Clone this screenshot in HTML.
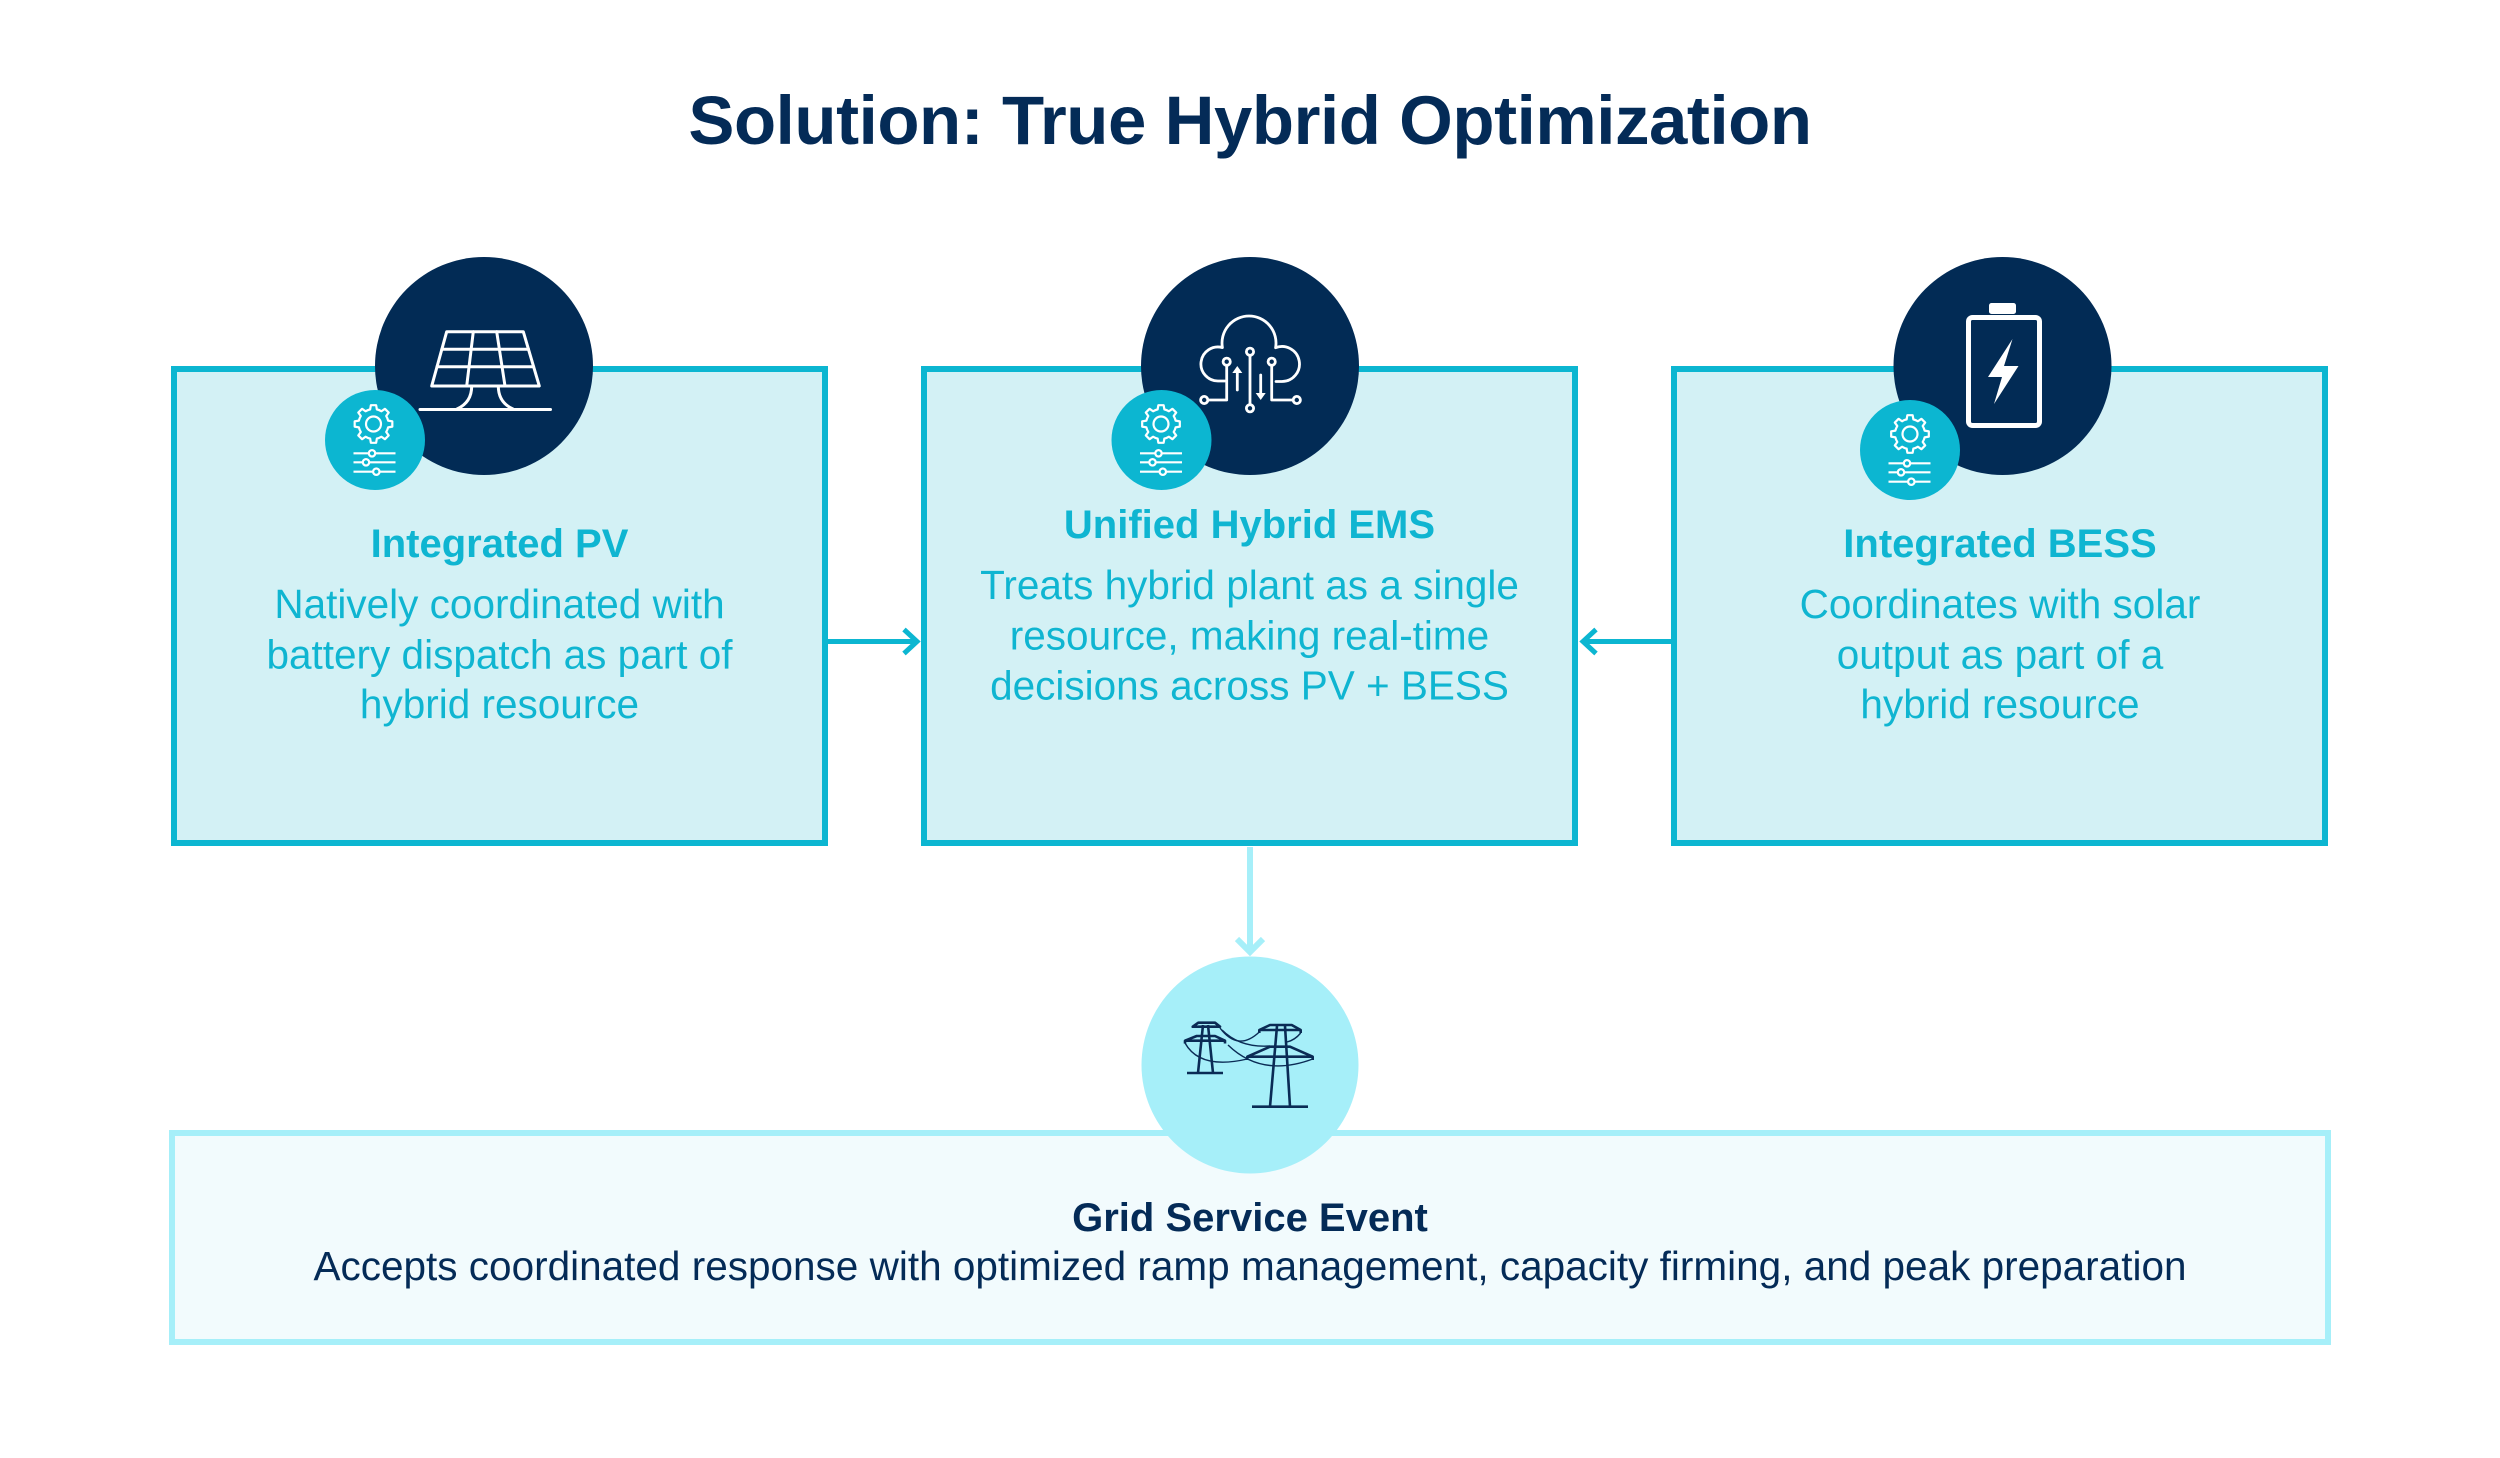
<!DOCTYPE html>
<html>
<head>
<meta charset="utf-8">
<style>
  html, body { margin: 0; padding: 0; background: #ffffff; }
  body { width: 2500px; height: 1458px; overflow: hidden; }
  svg { display: block; }
  .t { font-family: "Liberation Sans", Arial, sans-serif; }
</style>
</head>
<body>
<svg width="2500" height="1458" viewBox="0 0 2500 1458" xmlns="http://www.w3.org/2000/svg">
  <rect x="0" y="0" width="2500" height="1458" fill="#ffffff"/>

  <!-- Title -->
  <text class="t" x="1250" y="144" text-anchor="middle" font-size="69" font-weight="bold" letter-spacing="-0.45" fill="#042b57">Solution: True Hybrid Optimization</text>

  <!-- Top boxes -->
  <rect x="174" y="369" width="651" height="474" fill="#d3f1f5" stroke="#0cb6d1" stroke-width="6"/>
  <rect x="924" y="369" width="651" height="474" fill="#d3f1f5" stroke="#0cb6d1" stroke-width="6"/>
  <rect x="1674" y="369" width="651" height="474" fill="#d3f1f5" stroke="#0cb6d1" stroke-width="6"/>

  <!-- Horizontal arrows -->
  <line x1="828" y1="641.5" x2="918" y2="641.5" stroke="#0cb6d1" stroke-width="5"/>
  <polyline points="904,629.5 917,641.5 904,653.5" fill="none" stroke="#0cb6d1" stroke-width="5"/>
  <line x1="1672" y1="641.5" x2="1582" y2="641.5" stroke="#0cb6d1" stroke-width="5"/>
  <polyline points="1596,629.5 1583,641.5 1596,653.5" fill="none" stroke="#0cb6d1" stroke-width="5"/>

  <!-- Vertical connector to grid -->
  <line x1="1250" y1="847" x2="1250" y2="950" stroke="#a6eff9" stroke-width="6"/>
  <polyline points="1237,939 1250,952 1263,939" fill="none" stroke="#a6eff9" stroke-width="6"/>

  <!-- Bottom box -->
  <rect x="172" y="1133" width="2156" height="209" fill="#f2fbfd" stroke="#a6eff9" stroke-width="6"/>

  <!-- Dark circles -->
  <circle cx="484" cy="366" r="109" fill="#022b55"/>
  <circle cx="1250" cy="366" r="109" fill="#022b55"/>
  <circle cx="2002.5" cy="366" r="109" fill="#022b55"/>

  <!-- Solar panel icon -->
  <g fill="none" stroke="#ffffff" stroke-width="3" stroke-linejoin="round" stroke-linecap="round">
    <path d="M446.7,331.7 L523.3,331.7 L539.3,386 L431.7,386 Z"/>
    <line x1="441.8" y1="349.3" x2="528.5" y2="349.3"/>
    <line x1="437" y1="366.7" x2="533.6" y2="366.7"/>
    <line x1="473.3" y1="331.7" x2="466.7" y2="386"/>
    <line x1="496.7" y1="331.7" x2="505" y2="386"/>
    <path d="M471.7,386 C471.7,398 466,405 457,409"/>
    <path d="M498.3,386 C498.3,398 504,405 513,409"/>
    <line x1="420" y1="409.5" x2="550.5" y2="409.5"/>
  </g>

  <!-- Cloud / EMS icon -->
  <g fill="none" stroke="#ffffff" stroke-width="2.8" stroke-linecap="round" stroke-linejoin="round">
    <path d="M1225,381 H1218 A17 17 0 1 1 1222.4,347.6 A27 27 0 1 1 1275.6,347.7 A17.5 17.5 0 1 1 1282,381.5 H1276"/>
    <line x1="1250" y1="355.5" x2="1250" y2="404.5"/>
    <circle cx="1250" cy="351.7" r="3.6" fill="#022b55"/>
    <circle cx="1250" cy="408.3" r="3.6" fill="#022b55"/>
    <path d="M1226.7,365.5 V400 H1208"/>
    <circle cx="1226.7" cy="361.7" r="3.6" fill="#022b55"/>
    <circle cx="1204.2" cy="400" r="3.6" fill="#022b55"/>
    <path d="M1271.7,365.5 V400 H1293"/>
    <circle cx="1271.7" cy="361.7" r="3.6" fill="#022b55"/>
    <circle cx="1296.8" cy="400" r="3.6" fill="#022b55"/>
    <line x1="1237.3" y1="372" x2="1237.3" y2="390"/>
    <line x1="1260.7" y1="375" x2="1260.7" y2="394"/>
  </g>
  <polygon points="1237.3,366 1232.3,373 1242.3,373" fill="#ffffff"/>
  <polygon points="1260.7,400 1255.7,393 1265.7,393" fill="#ffffff"/>

  <!-- Battery icon -->
  <rect x="1968.5" y="317.5" width="71" height="108" rx="4" ry="4" fill="none" stroke="#ffffff" stroke-width="5"/>
  <rect x="1989" y="303" width="27" height="11" rx="2.5" ry="2.5" fill="#ffffff"/>
  <polygon points="2012.5,339 1988,377 2002,377 1994,404 2018.5,366 2004,366" fill="#ffffff"/>

  <!-- Badges -->
  <g transform="translate(375,440)">
    <circle cx="0" cy="0" r="50" fill="#0cb6d1"/>
    <g transform="translate(-1.5,-16)" fill="none" stroke="#ffffff" stroke-width="2.2" stroke-linejoin="round">
      <path d="M14.62,-3.37 L18.82,-2.64 L18.82,2.64 L14.62,3.37 A15,15 0 0 1 12.72,7.95 L15.17,11.43 L11.43,15.17 L7.95,12.72 A15 15 0 0 1 3.37,14.62 L2.64,18.82 L-2.64,18.82 L-3.37,14.62 A15 15 0 0 1 -7.95,12.72 L-11.43,15.17 L-15.17,11.43 L-12.72,7.95 A15 15 0 0 1 -14.62,3.37 L-18.82,2.64 L-18.82,-2.64 L-14.62,-3.37 A15 15 0 0 1 -12.72,-7.95 L-15.17,-11.43 L-11.43,-15.17 L-7.95,-12.72 A15 15 0 0 1 -3.37,-14.62 L-2.64,-18.82 L2.64,-18.82 L3.37,-14.62 A15 15 0 0 1 7.95,-12.72 L11.43,-15.17 L15.17,-11.43 L12.72,-7.95 A15 15 0 0 1 14.62,-3.37 Z"/>
      <circle cx="0" cy="0" r="7.5"/>
    </g>
    <g stroke="#ffffff" stroke-width="2.2">
      <line x1="-21.5" y1="13.3" x2="20.5" y2="13.3"/>
      <line x1="-21.5" y1="22.3" x2="20.5" y2="22.3"/>
      <line x1="-21.5" y1="31.7" x2="20.5" y2="31.7"/>
      <circle cx="-3" cy="13.3" r="3.2" fill="#0cb6d1"/>
      <circle cx="-9" cy="22.3" r="3.2" fill="#0cb6d1"/>
      <circle cx="1.3" cy="31.7" r="3.2" fill="#0cb6d1"/>
    </g>
  </g>
  <g transform="translate(1161.5,440)">
    <circle cx="0" cy="0" r="50" fill="#0cb6d1"/>
    <g transform="translate(-0.5,-16)" fill="none" stroke="#ffffff" stroke-width="2.2" stroke-linejoin="round">
      <path d="M14.62,-3.37 L18.82,-2.64 L18.82,2.64 L14.62,3.37 A15,15 0 0 1 12.72,7.95 L15.17,11.43 L11.43,15.17 L7.95,12.72 A15 15 0 0 1 3.37,14.62 L2.64,18.82 L-2.64,18.82 L-3.37,14.62 A15 15 0 0 1 -7.95,12.72 L-11.43,15.17 L-15.17,11.43 L-12.72,7.95 A15 15 0 0 1 -14.62,3.37 L-18.82,2.64 L-18.82,-2.64 L-14.62,-3.37 A15 15 0 0 1 -12.72,-7.95 L-15.17,-11.43 L-11.43,-15.17 L-7.95,-12.72 A15 15 0 0 1 -3.37,-14.62 L-2.64,-18.82 L2.64,-18.82 L3.37,-14.62 A15 15 0 0 1 7.95,-12.72 L11.43,-15.17 L15.17,-11.43 L12.72,-7.95 A15 15 0 0 1 14.62,-3.37 Z"/>
      <circle cx="0" cy="0" r="7.5"/>
    </g>
    <g stroke="#ffffff" stroke-width="2.2">
      <line x1="-21.5" y1="13.3" x2="20.5" y2="13.3"/>
      <line x1="-21.5" y1="22.3" x2="20.5" y2="22.3"/>
      <line x1="-21.5" y1="31.7" x2="20.5" y2="31.7"/>
      <circle cx="-3" cy="13.3" r="3.2" fill="#0cb6d1"/>
      <circle cx="-9" cy="22.3" r="3.2" fill="#0cb6d1"/>
      <circle cx="1.3" cy="31.7" r="3.2" fill="#0cb6d1"/>
    </g>
  </g>
  <g transform="translate(1910,450)">
    <circle cx="0" cy="0" r="50" fill="#0cb6d1"/>
    <g transform="translate(0,-16)" fill="none" stroke="#ffffff" stroke-width="2.2" stroke-linejoin="round">
      <path d="M14.62,-3.37 L18.82,-2.64 L18.82,2.64 L14.62,3.37 A15,15 0 0 1 12.72,7.95 L15.17,11.43 L11.43,15.17 L7.95,12.72 A15 15 0 0 1 3.37,14.62 L2.64,18.82 L-2.64,18.82 L-3.37,14.62 A15 15 0 0 1 -7.95,12.72 L-11.43,15.17 L-15.17,11.43 L-12.72,7.95 A15 15 0 0 1 -14.62,3.37 L-18.82,2.64 L-18.82,-2.64 L-14.62,-3.37 A15 15 0 0 1 -12.72,-7.95 L-15.17,-11.43 L-11.43,-15.17 L-7.95,-12.72 A15 15 0 0 1 -3.37,-14.62 L-2.64,-18.82 L2.64,-18.82 L3.37,-14.62 A15 15 0 0 1 7.95,-12.72 L11.43,-15.17 L15.17,-11.43 L12.72,-7.95 A15 15 0 0 1 14.62,-3.37 Z"/>
      <circle cx="0" cy="0" r="7.5"/>
    </g>
    <g stroke="#ffffff" stroke-width="2.2">
      <line x1="-21.5" y1="13.3" x2="20.5" y2="13.3"/>
      <line x1="-21.5" y1="22.3" x2="20.5" y2="22.3"/>
      <line x1="-21.5" y1="31.7" x2="20.5" y2="31.7"/>
      <circle cx="-3" cy="13.3" r="3.2" fill="#0cb6d1"/>
      <circle cx="-9" cy="22.3" r="3.2" fill="#0cb6d1"/>
      <circle cx="1.3" cy="31.7" r="3.2" fill="#0cb6d1"/>
    </g>
  </g>

  <!-- Grid circle -->
  <circle cx="1250" cy="1065" r="108.5" fill="#a6eff9"/>
  <g fill="none" stroke="#0a2b55" stroke-width="2.6" stroke-linejoin="round">
    <!-- left pylon -->
    <line x1="1187" y1="1073" x2="1223" y2="1073"/>
    <line x1="1198" y1="1073" x2="1203" y2="1025"/>
    <line x1="1213" y1="1073" x2="1208" y2="1025"/>
    <path d="M1192.7,1026.7 L1198.3,1022.7 L1215,1022.7 L1220,1026.7 Z"/>
    <path d="M1185,1043.5 V1040.7 L1196.7,1036 L1215,1036 L1225,1040.7 V1043.5"/>
    <line x1="1185" y1="1040.7" x2="1225" y2="1040.7"/>
    <!-- right pylon -->
    <line x1="1252" y1="1106.7" x2="1308" y2="1106.7"/>
    <line x1="1270" y1="1106.7" x2="1277" y2="1026"/>
    <line x1="1290" y1="1106.7" x2="1285" y2="1026"/>
    <path d="M1259.3,1033 V1030 L1270,1025 L1291.7,1025 L1300.7,1030 V1033"/>
    <line x1="1259.3" y1="1030" x2="1300.7" y2="1030"/>
    <path d="M1247.3,1060 V1056.7 L1270,1046.7 L1290,1046.7 L1312.7,1056.7 V1060"/>
    <line x1="1247.3" y1="1056.7" x2="1312.7" y2="1056.7"/>
  </g>
  <g fill="none" stroke="#0a2b55" stroke-width="1.4">
    <path d="M1220,1028 Q1238,1052 1259.3,1032"/>
    <path d="M1185,1043 Q1200,1070 1247.3,1059"/>
    <path d="M1228,1045 Q1262,1078 1312.7,1059"/>
    <path d="M1222,1030 Q1240,1048 1270,1046"/>
    <path d="M1300.7,1033 Q1295,1040 1287,1042"/>
  </g>

  <!-- Box texts -->
  <g class="t" text-anchor="middle" fill="#0fb5d1">
    <text x="499.5" y="557" font-size="40" font-weight="bold">Integrated PV</text>
    <text x="499.5" y="618" font-size="40.5">Natively coordinated with</text>
    <text x="499.5" y="668.5" font-size="40.5">battery dispatch as part of</text>
    <text x="499.5" y="718" font-size="40.5">hybrid resource</text>

    <text x="1249.5" y="538" font-size="40" font-weight="bold">Unified Hybrid EMS</text>
    <text x="1249.5" y="599" font-size="40.5">Treats hybrid plant as a single</text>
    <text x="1249.5" y="649.5" font-size="40.5">resource, making real-time</text>
    <text x="1249.5" y="699.5" font-size="40.5">decisions across PV + BESS</text>

    <text x="2000" y="557" font-size="40" font-weight="bold">Integrated BESS</text>
    <text x="2000" y="618" font-size="40.5">Coordinates with solar</text>
    <text x="2000" y="668.5" font-size="40.5">output as part of a</text>
    <text x="2000" y="718" font-size="40.5">hybrid resource</text>
  </g>

  <g class="t" text-anchor="middle" fill="#042b57">
    <text x="1250" y="1231" font-size="40" font-weight="bold">Grid Service Event</text>
    <text x="1250" y="1280" font-size="40.5">Accepts coordinated response with optimized ramp management, capacity firming, and peak preparation</text>
  </g>
</svg>
</body>
</html>
